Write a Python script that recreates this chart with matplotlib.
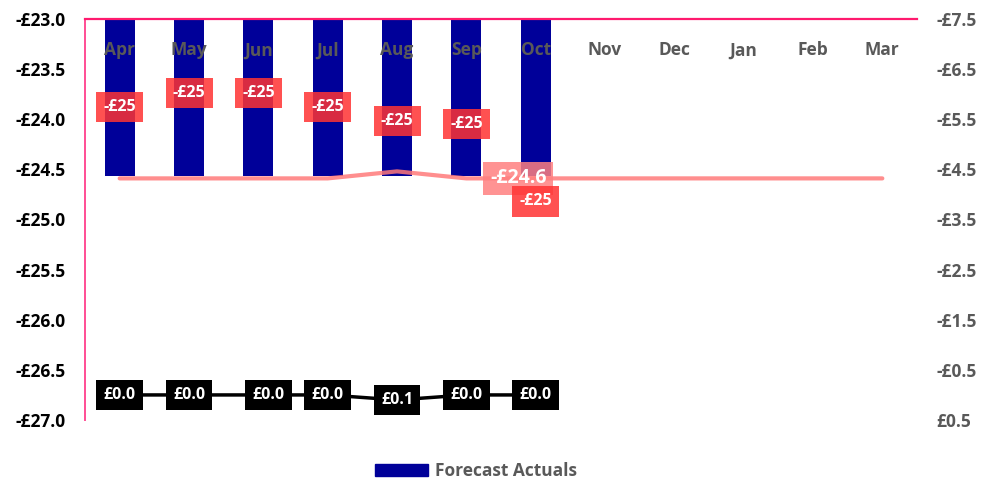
import matplotlib.pyplot as plt
from matplotlib.patches import Patch

plt.rcParams['font.family'] = ['Open Sans', 'DejaVu Sans']
plt.rcParams['font.weight'] = 'bold'

months = ['Apr', 'May', 'Jun', 'Jul', 'Aug', 'Sep', 'Oct',
          'Nov', 'Dec', 'Jan', 'Feb', 'Mar']

# forecast actuals (bars, left axis) - Apr..Oct
actuals = [-24.57, -24.57, -24.57, -24.57, -24.57, -24.57, -24.57]
actual_labels = ['-£25'] * 7
# where the red data labels sit (left axis units)
actual_label_y = [-23.88, -23.74, -23.74, -23.88, -24.02, -24.05, -24.82]

# forecast line (left axis) - full year
forecast = [-24.59, -24.59, -24.59, -24.59, -24.52, -24.59, -24.59,
            -24.59, -24.59, -24.59, -24.59, -24.59]
forecast_label_idx = 6
forecast_label = '-£24.6'

# variance line (right axis, inverted) - Apr..Oct
variance = [0.0, 0.0, 0.0, 0.0, 0.1, 0.0, 0.0]
variance_labels = ['£0.0', '£0.0', '£0.0', '£0.0', '£0.1', '£0.0', '£0.0']

left_ticks = [-23.0, -23.5, -24.0, -24.5, -25.0, -25.5, -26.0, -26.5, -27.0]
right_ticks = [-7.5, -6.5, -5.5, -4.5, -3.5, -2.5, -1.5, -0.5, 0.5]


def money(v):
    return ('-£%.1f' % abs(v)) if v < 0 else ('£%.1f' % v)


fig = plt.figure(figsize=(9.84, 4.82), dpi=100)
ax = fig.add_axes([85 / 984, 1 - 420 / 482, 832 / 984, 401 / 482])
x = list(range(len(months)))

ax.bar(x[:len(actuals)], actuals, width=0.43, color='#000099', zorder=1)
ax.plot(x, forecast, color='#ff7a7a', lw=3, alpha=0.85,
        solid_capstyle='round', solid_joinstyle='round', zorder=2)

for i, (lab, yy) in enumerate(zip(actual_labels, actual_label_y)):
    ax.text(i, yy, lab, ha='center', va='center', color='white', fontsize=11.5,
            fontweight='bold', zorder=4,
            bbox=dict(boxstyle='square,pad=0.45', fc='#ff3333', ec='none', alpha=0.85))

ax.text(forecast_label_idx - 0.25, forecast[forecast_label_idx], forecast_label,
        ha='center', va='center', color='white', fontsize=14, fontweight='bold',
        zorder=3,
        bbox=dict(boxstyle='square,pad=0.35', fc='#ff8080', ec='none', alpha=0.85))

ax.set_xlim(-0.5, 11.5)
ax.set_ylim(-27.0, -23.0)
ax.set_yticks(left_ticks)
ax.set_yticklabels([money(v) for v in left_ticks])
ax.tick_params(axis='y', length=0, pad=14, labelsize=12.5, labelcolor='black')
ax.xaxis.tick_top()
ax.set_xticks(x)
ax.set_xticklabels(months)
ax.tick_params(axis='x', length=0, pad=-29, labelsize=12.5, labelcolor='#595959')
for t in ax.get_xticklabels() + ax.get_yticklabels():
    t.set_fontweight('bold')

ax.spines['right'].set_visible(False)
ax.spines['bottom'].set_visible(False)
ax.spines['top'].set_color('#ff1a6e')
ax.spines['top'].set_linewidth(1.6)
ax.spines['left'].set_color('#ff4d94')
ax.spines['left'].set_linewidth(1.4)

ax2 = ax.twinx()
ax2.plot(x[:len(variance)], variance, color='black', lw=2.5, zorder=2)
for i, (v, lab) in enumerate(zip(variance, variance_labels)):
    dx = 0.15 if i == 2 else 0.0
    ax2.text(i + dx, v, lab, ha='center', va='center', color='white', fontsize=11.5,
             fontweight='bold', zorder=3,
             bbox=dict(boxstyle='square,pad=0.45', fc='black', ec='none'))
ax2.set_ylim(0.5, -7.5)
ax2.set_yticks(right_ticks)
ax2.set_yticklabels([money(v) for v in right_ticks])
ax2.tick_params(axis='y', length=0, pad=14, labelsize=12.5, labelcolor='#595959')
for t in ax2.get_yticklabels():
    t.set_fontweight('bold')
for s in ax2.spines.values():
    s.set_visible(False)

fig.legend(handles=[Patch(color='#000099', label='Forecast Actuals')],
           loc='center', bbox_to_anchor=(476 / 984, 1 - 471 / 482), frameon=False,
           prop={'weight': 'bold', 'size': 12.5}, labelcolor='#595959',
           handlelength=3.0, handleheight=0.7, handletextpad=0.4,
           borderpad=0.1)

fig.savefig('out.png', dpi=100)
